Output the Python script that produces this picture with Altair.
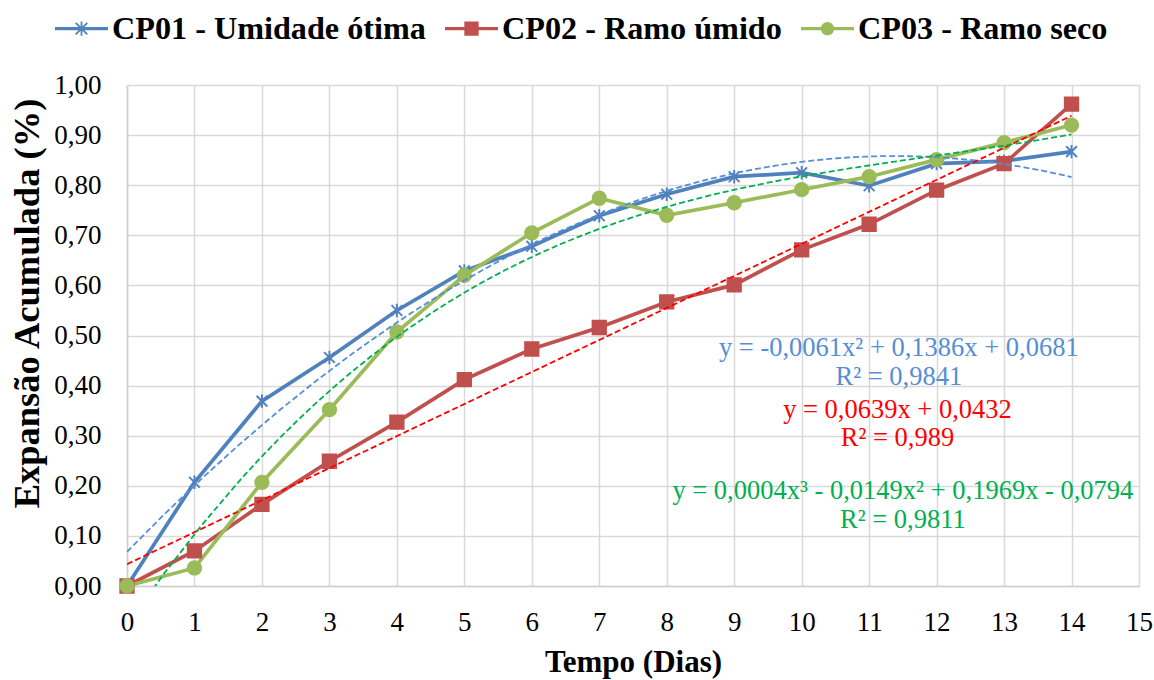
import altair as alt
import pandas as pd

# Ensaio de expansão: dias de leitura e expansão acumulada (%) de cada corpo de prova
dias = list(range(0, 15))
serie_cp01 = "CP01 - Umidade ótima"
serie_cp02 = "CP02 - Ramo úmido"
serie_cp03 = "CP03 - Ramo seco"
exp_cp01 = [0.000, 0.207, 0.369, 0.456, 0.550, 0.629, 0.678, 0.739, 0.782, 0.817, 0.825, 0.799, 0.843, 0.848, 0.867]
exp_cp02 = [0.000, 0.070, 0.163, 0.249, 0.327, 0.412, 0.473, 0.516, 0.567, 0.601, 0.671, 0.722, 0.790, 0.843, 0.962]
exp_cp03 = [0.000, 0.036, 0.207, 0.352, 0.507, 0.620, 0.705, 0.774, 0.740, 0.765, 0.791, 0.817, 0.851, 0.885, 0.920]

series = [serie_cp01, serie_cp02, serie_cp03]
cores_series = ["#4F81BD", "#C0504D", "#9BBB59"]

# Equações das linhas de tendência e seus coeficientes de determinação
eq_textos = [
    "y = -0,0061x² + 0,1386x + 0,0681", "R² = 0,9841",
    "y = 0,0639x + 0,0432", "R² = 0,989",
    "y = 0,0004x³ - 0,0149x² + 0,1969x - 0,0794", "R² = 0,9811",
]
eq_x = [11.44, 11.44, 11.42, 11.42, 11.50, 11.50]
eq_y = [0.475, 0.417, 0.351, 0.295, 0.189, 0.131]
eq_cores = ["#558ED5", "#558ED5", "#FF0000", "#FF0000", "#00B050", "#00B050"]

fonte = "Liberation Serif"

df = pd.DataFrame({
    "dia": dias * 3,
    "valor": exp_cp01 + exp_cp02 + exp_cp03,
    "serie": [serie_cp01] * 15 + [serie_cp02] * 15 + [serie_cp03] * 15,
})
df_eq = pd.DataFrame({"texto": eq_textos, "x": eq_x, "y": eq_y, "cor": eq_cores})

# marcadores dos pontos (asterisco, quadrado, círculo)
asterisco = "M-0.8,-0.8L0.8,0.8M-0.8,0.8L0.8,-0.8M0,-1L0,1"
marcadores = [asterisco, "square", "circle"]

# símbolos da legenda: segmento de linha com o marcador ao centro (formas preenchidas)
seg = "M-1,-0.06H1V0.06H-1Z"
leg_cp01 = (seg + "M-0.196,-0.244L0.244,0.196L0.196,0.244L-0.244,-0.196Z"
            "M-0.244,0.196L0.196,-0.244L0.244,-0.196L-0.196,0.244Z"
            "M-0.034,-0.27H0.034V0.27H-0.034Z")
leg_cp02 = seg + "M-0.27,-0.27H0.27V0.27H-0.27Z"
leg_cp03 = seg + "M0.25,0A0.25,0.25 0 1,1 -0.25,0A0.25,0.25 0 1,1 0.25,0Z"
simbolos_legenda = [leg_cp01, leg_cp02, leg_cp03]

x_enc = alt.X("dia:Q", scale=alt.Scale(domain=[0, 15], nice=False),
              axis=alt.Axis(title="Tempo (Dias)", values=list(range(0, 16)), format="d"))
y_enc = alt.Y("valor:Q", scale=alt.Scale(domain=[0, 1], nice=False),
              axis=alt.Axis(title="Expansão Acumulada (%)",
                            values=[i / 10 for i in range(0, 11)],
                            labelExpr="replace(format(datum.value, '.2f'), '.', ',')",
                            titleY=218))

cor_scale = alt.Scale(domain=series, range=cores_series)

base = alt.Chart(df)

linhas = base.mark_line(strokeWidth=3.7).encode(
    x=x_enc, y=y_enc,
    color=alt.Color("serie:N", scale=cor_scale, legend=None),
    detail="serie:N",
)

pontos = base.mark_point(filled=True, strokeWidth=1.9, opacity=1).encode(
    x="dia:Q", y="valor:Q",
    color=alt.Color("serie:N", scale=cor_scale, legend=None),
    stroke=alt.Stroke("serie:N", scale=cor_scale, legend=None),
    shape=alt.Shape("serie:N", scale=alt.Scale(domain=series, range=marcadores), legend=None),
    size=alt.value(180),
)

tracejado = [6, 3]
tend_cp01 = base.transform_filter(alt.datum.serie == serie_cp01).transform_regression(
    "dia", "valor", method="poly", order=2
).mark_line(strokeWidth=1.8, strokeDash=tracejado, color="#558ED5", clip=True).encode(
    x="dia:Q", y="valor:Q")

tend_cp02 = base.transform_filter(alt.datum.serie == serie_cp02).transform_regression(
    "dia", "valor", method="linear"
).mark_line(strokeWidth=1.8, strokeDash=tracejado, color="#FF0000", clip=True).encode(
    x="dia:Q", y="valor:Q")

tend_cp03 = base.transform_filter(alt.datum.serie == serie_cp03).transform_regression(
    "dia", "valor", method="poly", order=3
).mark_line(strokeWidth=1.8, strokeDash=tracejado, color="#00B050", clip=True).encode(
    x="dia:Q", y="valor:Q")

legenda = alt.Legend(
    title=None, orient="none", direction="horizontal", legendX=-72, legendY=-83,
    labelFont=fonte, labelFontWeight="bold", labelFontSize=32.2, labelColor="#000000",
    labelLimit=500, labelOffset=4, columnPadding=19, symbolSize=2809,
    symbolOpacity=1, symbolStrokeWidth=0,
)
legenda_layer = base.mark_point(filled=True).encode(
    x="dia:Q", y="valor:Q",
    color=alt.Color("serie:N", scale=cor_scale, legend=legenda),
    shape=alt.Shape("serie:N", scale=alt.Scale(domain=series, range=simbolos_legenda), legend=legenda),
    opacity=alt.value(0),
)

equacoes = alt.Chart(df_eq).mark_text(
    font=fonte, fontSize=26.5, align="center", baseline="middle"
).encode(
    x="x:Q", y="y:Q", text="texto:N",
    color=alt.Color("cor:N", scale=None),
)

chart = alt.layer(
    linhas, pontos, tend_cp01, tend_cp02, tend_cp03, legenda_layer, equacoes
).resolve_scale(
    color="independent", shape="independent"
).properties(
    width=1012, height=501,
    autosize=alt.AutoSizeParams(type="none"),
    padding={"left": 127, "top": 85, "right": 15, "bottom": 94},
    background="#ffffff",
).configure(
    font=fonte
).configure_view(
    stroke=None
).configure_axis(
    grid=True, gridColor="#d9d9d9", gridWidth=1.5,
    domainColor="#d0d0d0", domainWidth=1.5,
    ticks=False, tickSize=0, labelFlush=False,
    labelFont=fonte, labelFontSize=27, labelColor="#000000",
    titleFont=fonte, titleFontWeight="bold", titleColor="#000000",
).configure_axisX(
    labelPadding=23, titleFontSize=31, titlePadding=12,
).configure_axisY(
    labelPadding=26, titleFontSize=36.5, titlePadding=7,
)

chart.save("out.html", embed_options={"renderer": "svg", "actions": False})
